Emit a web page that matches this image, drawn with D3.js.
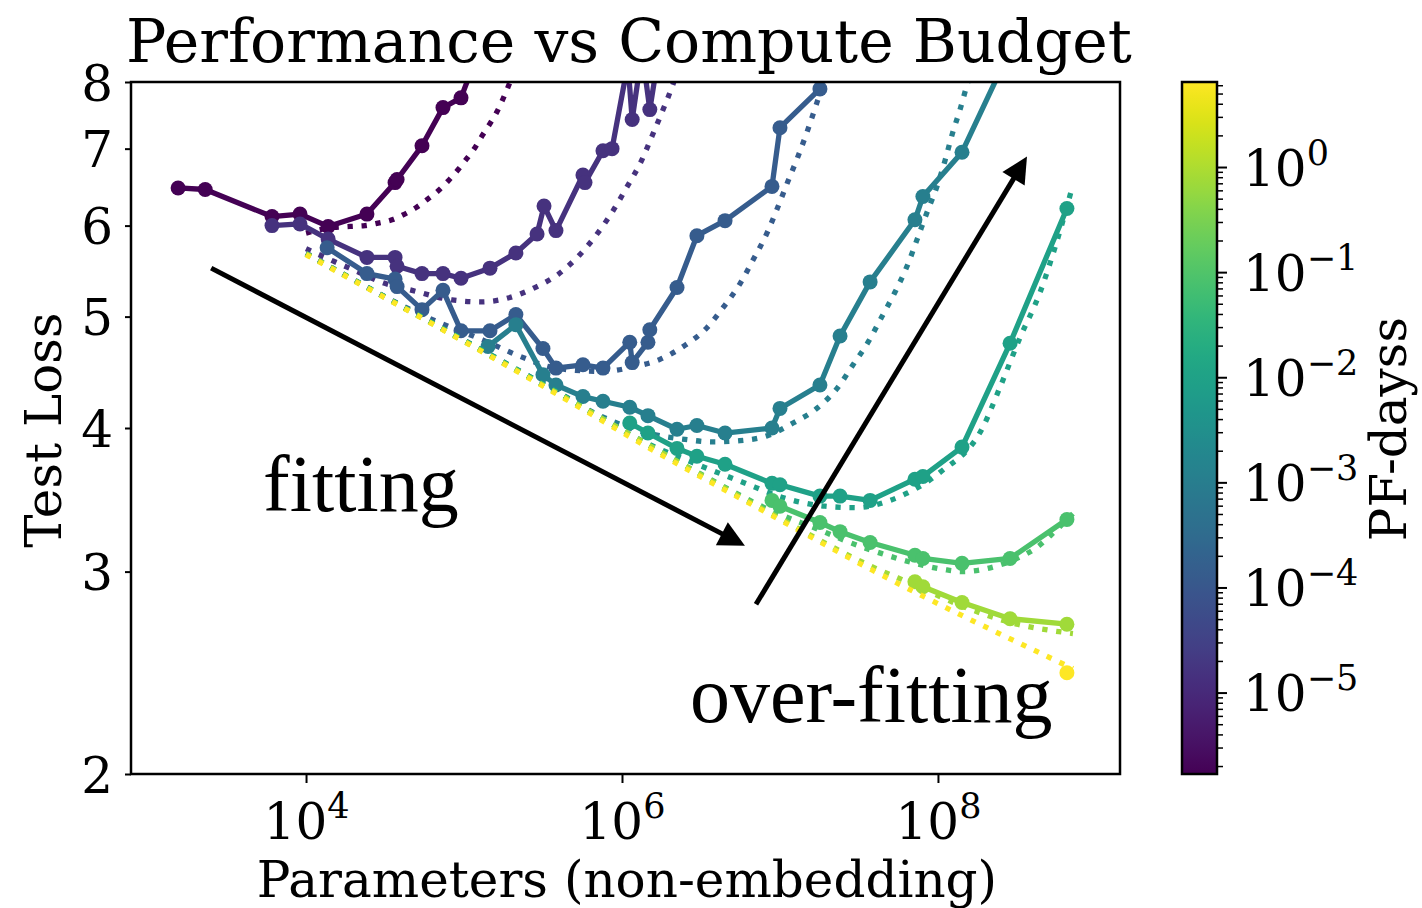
<!DOCTYPE html>
<html>
<head>
<meta charset="utf-8">
<script src="https://cdn.jsdelivr.net/npm/d3@7"></script>
<style>
  body { margin: 0; background: #fff; }
  svg text { font-family: "DejaVu Serif", serif; fill: #000; }
</style>
</head>
<body>
<svg id="chart" width="1422" height="908"></svg>
<script>
// Compute budget of each run (PF-days), smallest to largest
const pfDays = [1.68e-6, 1.46e-5, 1.28e-4, 1.11e-3, 9.7e-3, 8.5e-2, 0.74, 6.44];

// Measured runs: [non-embedding parameters, test loss]
const run1 = [[1.55e3,6.47],[2.30e3,6.45],[6.09e3,6.11],[9.16e3,6.14],[1.38e4,5.99],[2.43e4,6.14],[3.66e4,6.54],[3.77e4,6.58],[5.42e4,7.04],[7.36e4,7.60],[9.57e4,7.75],[1.46e5,9.04]];
const run2 = [[6.09e3,6.00],[9.16e3,6.02],[1.38e4,5.84],[2.43e4,5.63],[3.66e4,5.63],[3.77e4,5.53],[5.42e4,5.45],[7.36e4,5.45],[9.57e4,5.40],[1.46e5,5.51],[2.13e5,5.68],[2.90e5,5.90],[3.21e5,6.24],[3.82e5,5.94],[5.66e5,6.64],[5.83e5,6.54],[7.58e5,6.97],[8.65e5,7.00],[1.09e6,8.3],[1.16e6,7.42],[1.34e6,8.5],[1.50e6,7.57],[1.95e6,9.5]];
const run3 = [[1.36e4,5.74],[2.43e4,5.45],[3.66e4,5.39],[3.77e4,5.31],[5.42e4,5.07],[7.36e4,5.27],[9.57e4,4.86],[1.46e5,4.86],[2.13e5,5.02],[3.16e5,4.69],[3.82e5,4.51],[5.66e5,4.54],[7.58e5,4.51],[1.12e6,4.75],[1.16e6,4.56],[1.46e6,4.75],[1.50e6,4.87],[2.23e6,5.30],[2.98e6,5.88],[4.49e6,6.06],[8.90e6,6.49],[1.00e7,7.30],[1.79e7,7.89]];
const run4 = [[1.42e5,4.71],[2.13e5,4.92],[3.16e5,4.45],[3.82e5,4.36],[5.66e5,4.26],[7.58e5,4.22],[1.12e6,4.17],[1.46e6,4.10],[2.23e6,3.99],[2.98e6,4.02],[4.49e6,3.96],[8.90e6,4.00],[1.00e7,4.16],[1.79e7,4.36],[2.40e7,4.81],[3.72e7,5.36],[7.15e7,6.07],[8.03e7,6.36],[1.42e8,6.95],[2.86e8,8.53]];
const run5 = [[1.12e6,4.04],[1.46e6,3.96],[2.23e6,3.84],[2.98e6,3.78],[4.49e6,3.72],[8.90e6,3.58],[1.00e7,3.57],[1.79e7,3.49],[2.40e7,3.49],[3.72e7,3.46],[7.15e7,3.61],[8.03e7,3.63],[1.42e8,3.85],[2.86e8,4.74],[6.55e8,6.21]];
const run6 = [[8.90e6,3.46],[1.00e7,3.42],[1.79e7,3.31],[2.40e7,3.25],[3.72e7,3.18],[7.15e7,3.10],[8.03e7,3.08],[1.42e8,3.05],[2.86e8,3.08],[6.55e8,3.33]];
const run7 = [[7.15e7,2.94],[8.03e7,2.91],[1.42e8,2.82],[2.86e8,2.73],[6.55e8,2.70]];
const run8 = [[6.55e8,2.45]];

// Fitted loss curves for each compute budget
const fit1 = [[1e4,5.91],[1.38e4,5.97],[1.90e4,5.99],[2.36e4,6.00],[2.86e4,6.03],[3.50e4,6.07],[4.11e4,6.13],[4.97e4,6.22],[5.83e4,6.32],[6.84e4,6.43],[7.92e4,6.56],[9.16e4,6.71],[1.04e5,6.86],[1.17e5,7.01],[1.30e5,7.18],[1.46e5,7.36],[1.62e5,7.54],[1.77e5,7.74],[1.90e5,7.92],[2.10e5,8.20]];
const fit2 = [[1e4,5.73],[1.48e4,5.59],[2.13e4,5.47],[3.07e4,5.35],[4.69e4,5.27],[8.40e4,5.17],[1.28e5,5.15],[1.90e5,5.19],[2.81e5,5.30],[3.93e5,5.44],[5.34e5,5.65],[6.95e5,5.90],[8.77e5,6.18],[1.08e6,6.49],[1.32e6,6.82],[1.55e6,7.18],[1.82e6,7.57],[2.10e6,7.96],[2.26e6,8.20]];
const fit3 = [[1e4,5.68],[6.09e4,4.98],[1.32e5,4.77],[2.33e5,4.61],[3.50e5,4.52],[5.04e5,4.49],[7.58e5,4.48],[1.17e6,4.52],[1.74e6,4.59],[2.50e6,4.72],[3.45e6,4.89],[4.36e6,5.09],[5.58e6,5.34],[6.75e6,5.60],[8.27e6,5.91],[9.71e6,6.23],[1.12e7,6.55],[1.30e7,6.89],[1.50e7,7.27],[1.71e7,7.67],[1.93e7,8.07]];
const fit4 = [[1e4,5.67],[3.66e5,4.32],[7.26e5,4.10],[1.12e6,4.00],[1.57e6,3.95],[2.50e6,3.91],[3.77e6,3.89],[5.58e6,3.90],[8.40e6,3.94],[1.21e7,4.04],[1.71e7,4.16],[2.30e7,4.33],[2.90e7,4.54],[3.61e7,4.75],[4.42e7,5.00],[5.34e7,5.25],[6.37e7,5.53],[7.36e7,5.83],[8.52e7,6.16],[9.86e7,6.49],[1.11e8,6.84],[1.24e8,7.23],[1.38e8,7.57],[1.53e8,7.96],[1.64e8,8.20]];
const fit5 = [[1e4,5.67],[3.66e5,4.32],[1.50e6,3.87],[3.12e6,3.71],[5.75e6,3.59],[1.04e7,3.48],[1.93e7,3.42],[3.03e7,3.41],[4.97e7,3.46],[6.37e7,3.51],[1.03e8,3.66],[1.93e8,4.01],[2.47e8,4.34],[3.30e8,4.79],[4.43e8,5.25],[5.50e8,5.74],[7.15e8,6.51]];
const fit6 = [[1e4,5.67],[3.66e5,4.31],[3.12e6,3.65],[8.77e6,3.39],[1.79e7,3.26],[2.77e7,3.18],[4.42e7,3.11],[7.15e7,3.05],[1.14e8,3.01],[1.44e8,3.00],[1.85e8,3.01],[2.47e8,3.04],[3.16e8,3.08],[4.24e8,3.15],[5.35e8,3.24],[7.15e8,3.37]];
const fit7 = [[1e4,5.67],[3.66e5,4.31],[8.77e6,3.37],[3.82e7,3.03],[7.15e7,2.92],[1.42e8,2.80],[2.86e8,2.71],[7.15e8,2.65]];
const fit8 = [[1e4,5.66],[6.09e4,4.94],[3.66e5,4.30],[1.50e6,3.84],[8.77e6,3.36],[3.82e7,3.01],[7.15e8,2.47]];

const runs = [run1, run2, run3, run4, run5, run6, run7, run8];
const fits = [fit1, fit2, fit3, fit4, fit5, fit6, fit7, fit8];

// Axis ticks
const paramTicks = [1e4, 1e6, 1e8];
const lossTicks = [2, 3, 4, 5, 6, 7, 8];
const pfTicks = [1e-5, 1e-4, 1e-3, 1e-2, 1e-1, 1];

// Annotation arrows: [params, loss] of tail and tip
const fitArrow = [[2.51e3, 5.51], [6.0e6, 3.16]];
const overArrow = [[7.05e6, 2.81], [3.66e8, 6.89]];
const fitLabel = [5.35e3, 3.39];
const overLabel = [2.69e6, 2.22];

// ---------------------------------------------------------------
const svg = d3.select("#chart");
const plot = { left: 131, right: 1120, top: 82, bottom: 774 };
const tickFont = 50, labelFont = 50, titleFont = 60;
const lineW = 5.3, markR = 7.5;

const x = d3.scaleLog().domain([780, 1.42e9]).range([plot.left, plot.right]);
const y = d3.scaleLog().domain([2, 8]).range([plot.bottom, plot.top]);
const color = d3.scaleSequentialLog(d3.interpolateViridis)
  .domain([pfDays[0], pfDays[pfDays.length - 1]]);

svg.append("rect").attr("width", 1422).attr("height", 908).attr("fill", "#fff");

svg.append("defs").append("clipPath").attr("id", "plot-clip")
  .append("rect")
  .attr("x", plot.left).attr("y", plot.top)
  .attr("width", plot.right - plot.left).attr("height", plot.bottom - plot.top);

const body = svg.append("g").attr("clip-path", "url(#plot-clip)");

const fitLine = d3.line().x(d => x(d[0])).y(d => y(d[1])).curve(d3.curveMonotoneX);
const runLine = d3.line().x(d => x(d[0])).y(d => y(d[1]));

runs.forEach((run, i) => {
  const c = color(pfDays[i]);
  body.append("path")
    .attr("d", fitLine(fits[i]))
    .attr("fill", "none").attr("stroke", c)
    .attr("stroke-width", lineW).attr("stroke-dasharray", `${lineW},${lineW * 1.65}`)
    .attr("stroke-linecap", "butt");
  const g = body.append("g");
  if (run.length > 1) {
    g.append("path")
      .attr("d", runLine(run))
      .attr("fill", "none").attr("stroke", c)
      .attr("stroke-width", lineW).attr("stroke-linejoin", "round");
  }
  g.selectAll("circle").data(run).join("circle")
    .attr("cx", d => x(d[0])).attr("cy", d => y(d[1]))
    .attr("r", markR).attr("fill", c);
});

// Axes
function powerLabel(textSel, fs) {
  textSel.each(function (d) {
    const e = Math.round(Math.log10(d));
    const t = d3.select(this).text(null);
    t.append("tspan").text("10");
    t.append("tspan").attr("dy", -0.42 * fs).attr("font-size", fs * 0.7)
      .text(e < 0 ? "\u2212" + (-e) : String(e));
  });
}

const xAxis = svg.append("g").attr("transform", `translate(0,${plot.bottom})`)
  .call(d3.axisBottom(x).tickValues(paramTicks).tickSize(9).tickPadding(0).tickFormat(d => d));
xAxis.select(".domain").remove();
xAxis.selectAll(".tick line").attr("stroke", "#000").attr("stroke-width", 2);
xAxis.selectAll(".tick text")
  .attr("y", 65).attr("dy", null)
  .attr("font-size", tickFont).attr("font-family", "DejaVu Serif")
  .attr("text-anchor", "middle")
  .call(powerLabel, tickFont);

const yAxis = svg.append("g").attr("transform", `translate(${plot.left},0)`)
  .call(d3.axisLeft(y).tickValues(lossTicks).tickSize(6).tickPadding(12).tickFormat(d3.format("d")));
yAxis.select(".domain").remove();
yAxis.selectAll(".tick line").attr("stroke", "#000").attr("stroke-width", 2);
yAxis.selectAll(".tick text")
  .attr("dy", "0.36em")
  .attr("font-size", tickFont).attr("font-family", "DejaVu Serif");

svg.append("rect")
  .attr("x", plot.left).attr("y", plot.top)
  .attr("width", plot.right - plot.left).attr("height", plot.bottom - plot.top)
  .attr("fill", "none").attr("stroke", "#000").attr("stroke-width", 2.5);

// Titles
svg.append("text").attr("x", 629).attr("y", 62).attr("text-anchor", "middle")
  .attr("font-size", titleFont).text("Performance vs Compute Budget");
svg.append("text").attr("x", 627).attr("y", 897).attr("text-anchor", "middle")
  .attr("font-size", labelFont).text("Parameters (non-embedding)");
svg.append("text").attr("transform", "translate(61,430) rotate(-90)")
  .attr("text-anchor", "middle").attr("font-size", labelFont).text("Test Loss");

// Annotations
function arrow(pts, headLen, headW) {
  const [x0, y0] = [x(pts[0][0]), y(pts[0][1])];
  const [x1, y1] = [x(pts[1][0]), y(pts[1][1])];
  const L = Math.hypot(x1 - x0, y1 - y0);
  const ux = (x1 - x0) / L, uy = (y1 - y0) / L;
  const bx = x1 - ux * headLen, by = y1 - uy * headLen;
  svg.append("line").attr("x1", x0).attr("y1", y0).attr("x2", bx + ux * 2).attr("y2", by + uy * 2)
    .attr("stroke", "#000").attr("stroke-width", 5);
  svg.append("path")
    .attr("d", `M${x1},${y1}L${bx - uy * headW / 2},${by + ux * headW / 2}L${bx + uy * headW / 2},${by - ux * headW / 2}Z`)
    .attr("fill", "#000");
}
arrow(fitArrow, 26, 26);
arrow(overArrow, 26, 26);

svg.append("text").attr("x", x(fitLabel[0])).attr("y", y(fitLabel[1]))
  .style("font-family", "Liberation Serif")
  .attr("font-size", 80).text("fitting");
svg.append("text").attr("x", x(overLabel[0])).attr("y", y(overLabel[1]))
  .style("font-family", "Liberation Serif")
  .attr("font-size", 80).text("over-fitting");

// Colorbar
const cb = { left: 1182, width: 35, top: 82, bottom: 774 };
const cScale = d3.scaleLog().domain(color.domain()).range([cb.bottom, cb.top]);
const grad = svg.select("defs").append("linearGradient")
  .attr("id", "pf-grad").attr("x1", 0).attr("y1", 1).attr("x2", 0).attr("y2", 0);
d3.range(0, 1.0001, 0.02).forEach(t => {
  grad.append("stop").attr("offset", t).attr("stop-color", d3.interpolateViridis(t));
});
svg.append("rect").attr("x", cb.left).attr("y", cb.top)
  .attr("width", cb.width).attr("height", cb.bottom - cb.top)
  .attr("fill", "url(#pf-grad)").attr("stroke", "#000").attr("stroke-width", 2.5);

const [cMin, cMax] = color.domain();
const minorTicks = [];
for (let e = -6; e <= 0; e++) for (let m = 2; m <= 9; m++) {
  const v = m * Math.pow(10, e);
  if (v >= cMin && v <= cMax) minorTicks.push(v);
}
const cMinor = svg.append("g").attr("transform", `translate(${cb.left + cb.width},0)`)
  .call(d3.axisRight(cScale).tickValues(minorTicks).tickSize(6).tickFormat(""));
cMinor.select(".domain").remove();
cMinor.selectAll(".tick line").attr("stroke", "#000").attr("stroke-width", 1.5);

const cAxis = svg.append("g").attr("transform", `translate(${cb.left + cb.width},0)`)
  .call(d3.axisRight(cScale).tickValues(pfTicks).tickSize(10).tickPadding(16).tickFormat(d => d));
cAxis.select(".domain").remove();
cAxis.selectAll(".tick line").attr("stroke", "#000").attr("stroke-width", 2);
cAxis.selectAll(".tick text")
  .attr("dy", "0.36em").attr("text-anchor", "start")
  .attr("font-size", tickFont).attr("font-family", "DejaVu Serif")
  .call(powerLabel, tickFont);

svg.append("text").attr("transform", "translate(1406,429) rotate(-90)")
  .attr("text-anchor", "middle").attr("font-size", labelFont).text("PF-dayss");
</script>
</body>
</html>
